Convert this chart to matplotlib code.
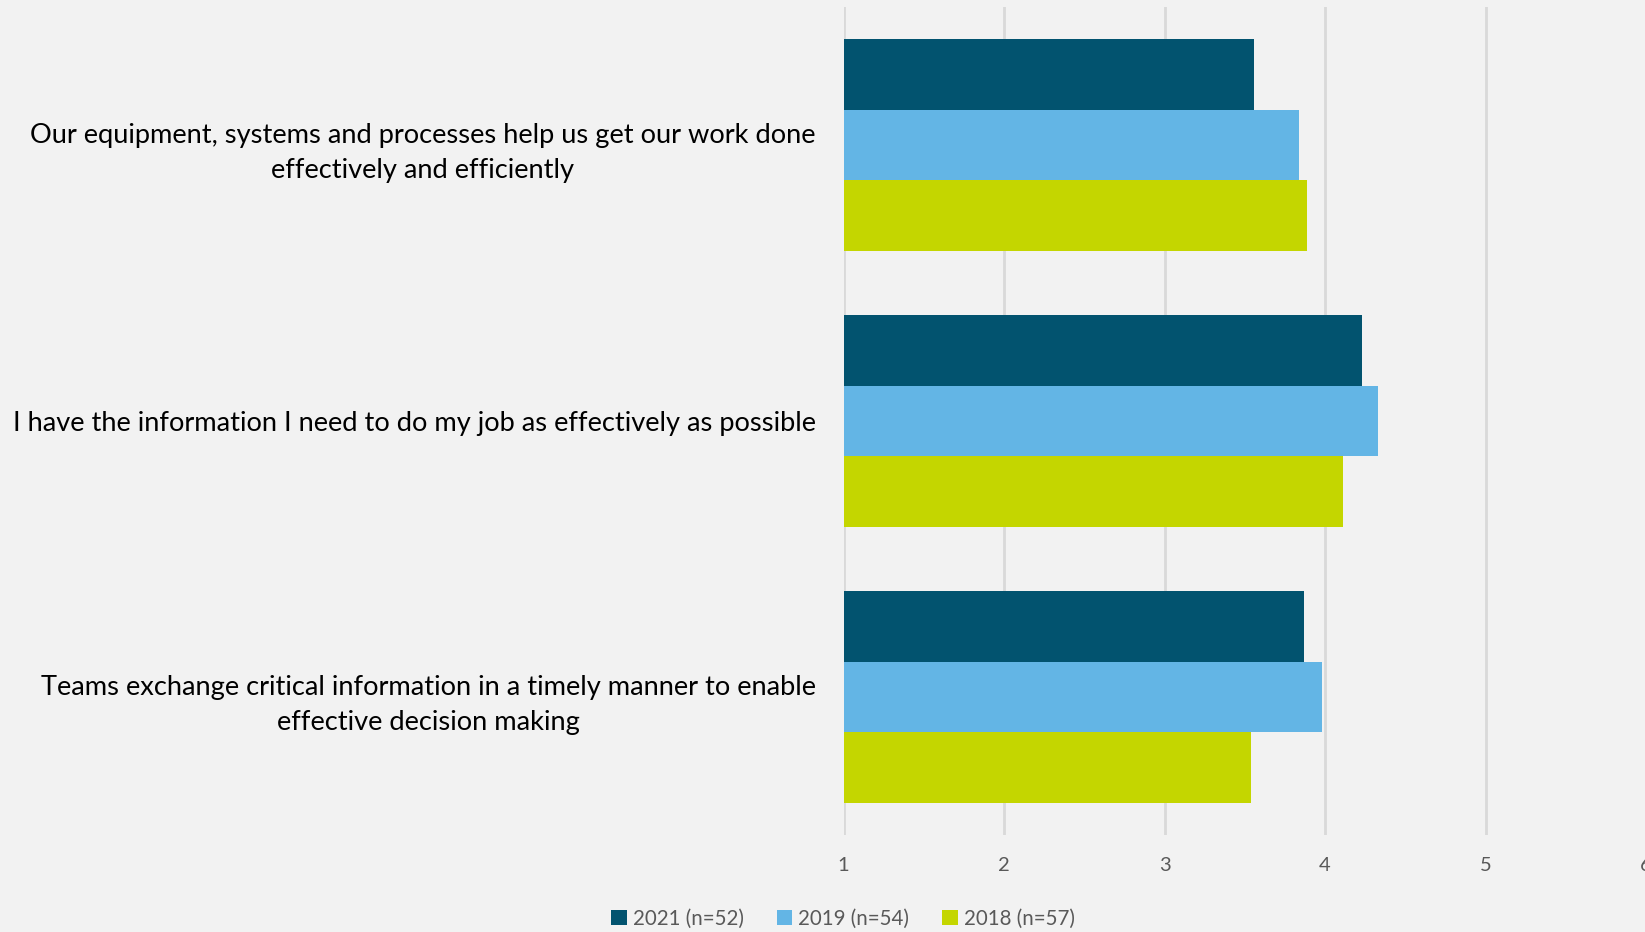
import matplotlib
matplotlib.use("Agg")
import matplotlib.pyplot as plt
import numpy as np
from matplotlib.patches import Patch

categories = [
    "Our equipment, systems and processes help us get our work done\neffectively and efficiently",
    "I have the information I need to do my job as effectively as possible",
    "Teams exchange critical information in a timely manner to enable\neffective decision making",
]
series_names = ["2021 (n=52)", "2019 (n=54)", "2018 (n=57)"]
values_2021 = [3.56, 4.23, 3.87]
values_2019 = [3.84, 4.33, 3.98]
values_2018 = [3.89, 4.11, 3.54]
xticks = [1, 2, 3, 4, 5, 6]

colors = ["#02536F", "#63B5E5", "#C4D600"]
bg = "#F2F2F2"
textc = "#595959"

plt.rcParams['font.family'] = ['Lato', 'DejaVu Sans']

fig = plt.figure(figsize=(16.45, 9.32), dpi=100, facecolor=bg)
ax = fig.add_axes([843.5/1645, 1-835/932, (1646-843.5)/1645, 828/932], facecolor=bg)

y = np.arange(len(categories))
h = 0.255
series = [values_2021, values_2019, values_2018]
for i, (vals, c) in enumerate(zip(series, colors)):
    ax.barh(y + (i - 1) * h, np.array(vals) - 1, left=1, height=h, color=c, zorder=3)

ax.set_xlim(1, 6)
ax.set_ylim(len(categories) - 0.5, -0.5)
ax.set_xticks(xticks)
ax.set_xticklabels([str(t) for t in xticks], fontsize=14.5, color=textc)
ax.set_yticks(y)
ax.set_yticklabels(categories, fontsize=19.6, color="black", multialignment="center",
                   linespacing=1.5)
ax.tick_params(axis='y', length=0, pad=20)
ax.tick_params(axis='x', length=0, pad=16)
ax.grid(axis='x', color="#D9D9D9", linewidth=2, zorder=0)
for s in ax.spines.values():
    s.set_visible(False)

handles = [Patch(facecolor=c, edgecolor='none') for c in colors]
leg = fig.legend(handles, series_names, loc='lower center', bbox_to_anchor=(843/1645, -0.016),
                 ncol=3, frameon=False, fontsize=14.8, handlelength=0.75, handleheight=0.75,
                 handletextpad=0.3, columnspacing=1.6)
for t in leg.get_texts():
    t.set_color(textc)

fig.savefig("out.png", dpi=100, facecolor=bg)
